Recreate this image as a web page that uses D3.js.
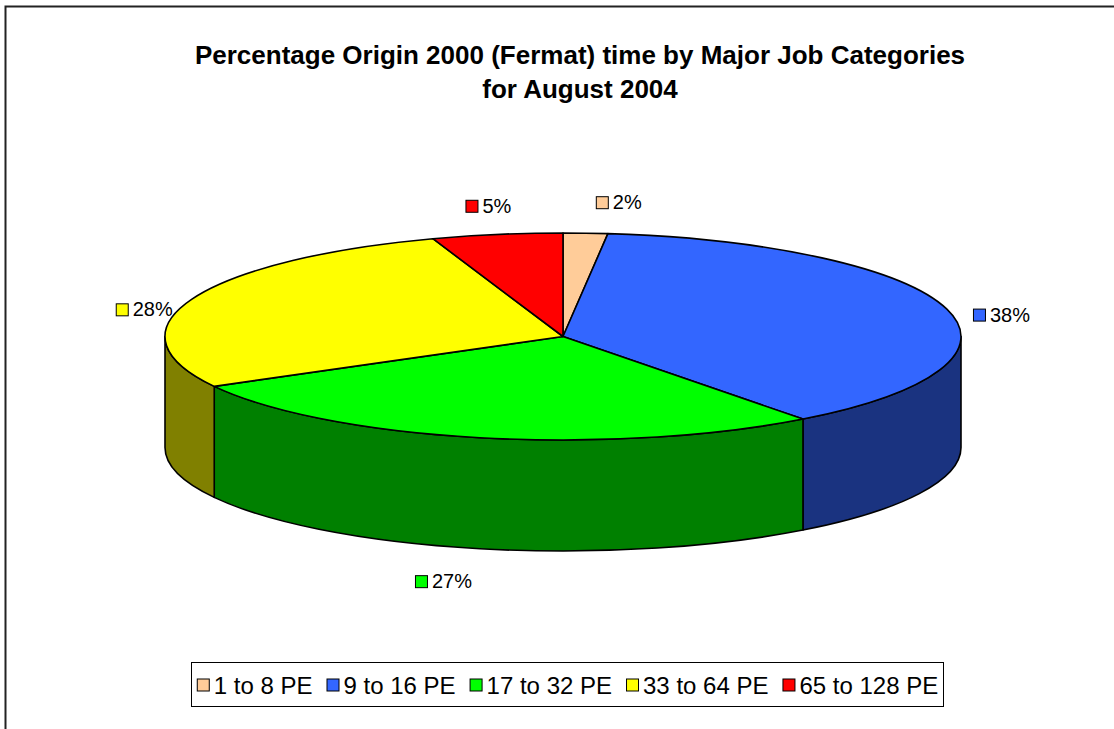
<!DOCTYPE html>
<html>

<head>
    <meta charset="UTF-8">
    <style>
        body { margin: 0; background: #fff; }
        svg { display: block; }
        text { font-family: "Liberation Sans", Arial, sans-serif; fill: #000; }
    </style>
</head>

<body>
    <svg></svg>
    <script src="https://cdnjs.cloudflare.com/ajax/libs/d3/7.8.5/d3.min.js"></script>

    <script>

        // data (percent of time)
        const categories = ["1 to 8 PE", "9 to 16 PE", "17 to 32 PE", "33 to 64 PE", "65 to 128 PE"];
        const values = [1.8, 37.9, 27.3, 27.7, 5.3];
        const colors = ["#FFCC99", "#3366FF", "#00FF00", "#FFFF00", "#FF0000"];
        const titleLines = ["Percentage Origin 2000 (Fermat) time by Major Job Categories", "for August 2004"];

        let width = 1114, height = 729;

        let svg = d3.select("svg")
            .attr("width", width)
            .attr("height", height);

        // outer chart frame (cut off right and bottom in the original)
        svg.append("rect")
            .attr("x", 5.5).attr("y", 6.5)
            .attr("width", 1200).attr("height", 1000)
            .attr("fill", "none")
            .attr("stroke", "#222")
            .attr("stroke-width", 2);

        // title
        svg.append("g").selectAll("text")
            .data(titleLines)
            .enter()
            .append("text")
            .attr("x", 580)
            .attr("y", (d, i) => 64 + i * 34)
            .attr("text-anchor", "middle")
            .style("font-size", "26px")
            .style("font-weight", "bold")
            .text(d => d);

        // 3d pie geometry
        const cx = 563, cy = 336.5, rx = 398, ry = 103.5, depth = 111;
        const pt = (a, dy) => [cx + rx * Math.sin(a), cy - ry * Math.cos(a) + (dy || 0)];

        let pie = d3.pie().sort(null).value(d => d);
        let arcs = pie(values);

        let sideColor = c => {
            let r = d3.rgb(c);
            return d3.rgb(r.r * 0.5, r.g * 0.5, r.b * 0.5).formatHex();
        };

        // side walls, only the front half (pi/2 .. 3pi/2) can be seen
        let sides = svg.append("g").attr("id", "sides");
        arcs.forEach((d, i) => {
            let a0 = Math.max(d.startAngle, Math.PI / 2);
            let a1 = Math.min(d.endAngle, 3 * Math.PI / 2);
            if (a1 <= a0) return;
            let p0 = pt(a0), p1 = pt(a1), q1 = pt(a1, depth), q0 = pt(a0, depth);
            let path = "M" + p0 + "A" + rx + "," + ry + " 0 0 1 " + p1 +
                "L" + q1 + "A" + rx + "," + ry + " 0 0 0 " + q0 + "Z";
            sides.append("path")
                .attr("d", path)
                .attr("fill", sideColor(colors[i]))
                .attr("stroke", "#000")
                .attr("stroke-width", 1.6)
                .attr("stroke-linejoin", "round");
        });

        // top faces
        svg.append("g")
            .attr("id", "tops")
            .selectAll("path")
            .data(arcs)
            .enter()
            .append("path")
            .attr("d", d => {
                let p0 = pt(d.startAngle), p1 = pt(d.endAngle);
                let large = (d.endAngle - d.startAngle) > Math.PI ? 1 : 0;
                return "M" + [cx, cy] + "L" + p0 + "A" + rx + "," + ry + " 0 " + large + " 1 " + p1 + "Z";
            })
            .attr("fill", (d, i) => colors[i])
            .attr("stroke", "#000")
            .attr("stroke-width", 1.6)
            .attr("stroke-linejoin", "round");

        // data labels, placed outside the rim at the mid angle
        const labelNudge = [[31, -6], [16, 12], [-28, 8], [-10, 19], [-2, -4]];
        let labels = svg.append("g").attr("id", "labels");
        arcs.forEach((d, i) => {
            let mid = (d.startAngle + d.endAngle) / 2;
            let s = Math.sin(mid), c = Math.cos(mid);
            let lx = cx + s * (rx + 40) + labelNudge[i][0];
            let ly = cy - c * (ry + 25) + (c < 0 ? depth : 0) + labelNudge[i][1];
            let g = labels.append("g");
            let t = g.append("text")
                .attr("x", 17)
                .attr("y", 7)
                .style("font-size", "20px")
                .text(Math.round(d.value) + "%");
            g.insert("rect", "text")
                .attr("x", 0.5).attr("y", -5.5)
                .attr("width", 12).attr("height", 12)
                .attr("fill", colors[i])
                .attr("stroke", "#000")
                .attr("stroke-width", 1);
            let w = 17 + t.node().getComputedTextLength();
            g.attr("transform", "translate(" + (lx - w / 2) + "," + ly + ")");
        });

        // legend
        let legend = svg.append("g").attr("id", "legend");
        legend.append("rect")
            .attr("x", 191.5).attr("y", 662.5)
            .attr("width", 752).attr("height", 44)
            .attr("fill", "#fff")
            .attr("stroke", "#000")
            .attr("stroke-width", 1);
        let items = legend.append("g");
        let xPos = 0;
        categories.forEach((name, i) => {
            let it = items.append("g").attr("transform", "translate(" + xPos + ",0)");
            it.append("rect")
                .attr("x", 0.5).attr("y", -5.5)
                .attr("width", 12).attr("height", 12)
                .attr("fill", colors[i])
                .attr("stroke", "#000")
                .attr("stroke-width", 1);
            let t = it.append("text")
                .attr("x", 17)
                .attr("y", 9)
                .style("font-size", "24px")
                .text(name);
            xPos += 17 + t.node().getComputedTextLength() + 14;
        });
        let total = xPos - 14;
        items.attr("transform", "translate(" + (191.5 + (752 - total) / 2) + ",684.5)");

    </script>

</body>

</html>
